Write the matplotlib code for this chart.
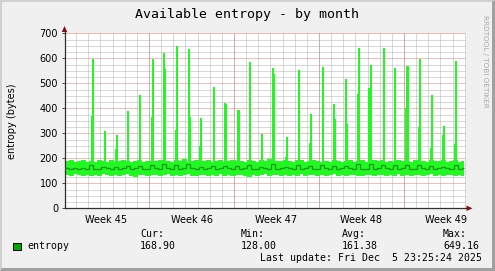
import numpy as np
import matplotlib
matplotlib.use("Agg")
import matplotlib.pyplot as plt
from matplotlib.patches import Polygon, Rectangle

# ---------------- data ----------------
title = "Available entropy - by month"
ylabel = "entropy (bytes)"
week_labels = ["Week 45", "Week 46", "Week 47", "Week 48", "Week 49"]
week_mid = [3.5, 10.5, 17.5, 24.5, 31.5]
week_bounds = [7, 14, 21, 28]

# 8-hour blocks of the min / max / average series (bytes)
lo_blocks = [
    136, 132, 138, 134, 130, 137, 133, 135, 131, 138, 134,
    132, 136, 130, 135, 138, 133, 129, 136, 134, 131, 137,
    135, 130, 134, 138, 132, 136, 131, 135, 139, 133, 130,
    137, 134, 131, 136, 133, 138, 132, 135, 130, 134, 137,
    133, 128, 136, 132, 135, 139, 131, 134, 137, 132, 136,
    130, 135, 133, 138, 131, 136, 134, 130, 137, 133, 135,
    138, 132, 136, 131, 134, 137, 133, 130, 136, 135, 132,
    134, 137, 131, 135, 133, 138, 130, 136, 132, 134, 137,
    131, 135, 138, 133, 136, 130, 134, 137, 132, 135, 133,
]
hi_blocks = [
    186, 190, 184, 188, 192, 185, 189, 183, 191, 187, 185,
    190, 184, 188, 193, 186, 182, 189, 191, 185, 188, 184,
    187, 192, 185, 189, 183, 190, 186, 194, 184, 188, 191,
    185, 189, 192, 184, 187, 190, 183, 188, 193, 186, 189,
    184, 191, 187, 185, 190, 188, 194, 183, 189, 186, 192,
    188, 185, 190, 193, 184, 187, 191, 186, 182, 189, 185,
    191, 186, 183, 189, 192, 185, 188, 190, 184, 187, 193,
    186, 190, 185, 188, 183, 191, 187, 189, 184, 192, 186,
    189, 184, 191, 186, 188, 193, 185, 187, 190, 184, 188,
]
avg_blocks = [
    160, 158, 161, 157, 160, 159, 172, 159, 157, 166, 160,
    158, 165, 157, 160, 168, 159, 161, 170, 158, 157, 174,
    160, 158, 176, 161, 159, 175, 158, 160, 177, 160, 157,
    167, 159, 161, 171, 157, 160, 170, 160, 158, 169, 158,
    161, 175, 159, 157, 164, 161, 159, 176, 158, 160, 165,
    160, 158, 172, 157, 161, 168, 159, 158, 174, 160, 157,
    170, 158, 160, 171, 161, 159, 177, 159, 158, 176, 157,
    160, 174, 160, 159, 172, 158, 161, 175, 159, 157, 174,
    161, 158, 168, 158, 160, 166, 160, 159, 173, 159, 161,
]
# daily spikes of the max series: (day, bytes)
spike_day = [2.24, 2.33, 3.32, 4.22, 4.31, 5.29, 6.28, 7.19, 7.27, 8.18,
             8.26, 9.14, 9.22, 10.24, 10.32, 11.20, 11.28, 12.30, 13.24,
             13.32, 14.22, 14.30, 15.26, 16.25, 17.16, 17.24, 18.23, 18.32,
             19.31, 20.21, 20.30, 21.26, 22.19, 22.25, 23.18, 23.26, 24.16,
             24.22, 25.12, 25.20, 25.29, 26.30, 27.29, 28.20, 28.28, 29.19,
             29.27, 30.18, 30.26, 31.16, 31.25, 32.16, 32.24]
spike_val = [368, 594, 308, 237, 290, 389, 453, 365, 597, 621,
             554, 310, 649.16, 637, 365, 249, 359, 484, 420,
             415, 393, 393, 582, 297, 558, 537, 205, 285,
             551, 260, 377, 565, 415, 355, 517, 337, 455,
             641, 479, 479, 573, 641, 561, 399, 569, 325,
             597, 241, 453, 290, 329, 255, 589]

legend_name = "entropy"
stat_names = ["Cur:", "Min:", "Avg:", "Max:"]
stat_vals = ["168.90", "128.00", "161.38", "649.16"]
last_update = "Last update: Fri Dec  5 23:25:24 2025"
watermark = "RRDTOOL / TOBI OETIKER"

# ---------------- series build ----------------
n_bins = 394
edges = (np.arange(n_bins + 1) + 1) / 12.0
lo = np.repeat(np.array(lo_blocks, float), 4)[:n_bins]
hi = np.repeat(np.array(hi_blocks, float), 4)[:n_bins]
avg = np.repeat(np.array(avg_blocks, float), 4)[:n_bins]
for d, v in zip(spike_day, spike_val):
    k = int(round(d * 12)) - 1
    hi[k] = max(hi[k], v)

# ---------------- figure ----------------
W, H = 495, 271
fig = plt.figure(figsize=(W / 100, H / 100), dpi=100, facecolor="#f0f0f0")


def fx(x):
    return x / W


def fy(y):
    return 1 - y / H


ax = fig.add_axes([fx(65), fy(208.3), (466 - 65) / W, 175 / H])
ax.set_facecolor("white")
ax.set_xlim(0.08, 33.11)
ax.set_ylim(0, 700)

band_col = "#22f822"
line_col = "#149814"
ax.stairs(hi, edges, baseline=lo, fill=True, color=band_col, lw=0,
          antialiased=False, zorder=2)
ax.stairs(avg, edges, baseline=None, color=line_col, lw=0.9, zorder=3)

# grid
ax.set_yticks(np.arange(0, 701, 100))
ax.set_yticks(np.arange(0, 701, 25), minor=True)
ax.set_xticks(week_mid, labels=week_labels)
ax.set_xticks(np.arange(1, 34), minor=True)
ax.set_axisbelow(True)
gray_grid = "#b4b4b4"
red_grid = "#e67c7c"
ax.grid(which="minor", color=gray_grid, linestyle=(0, (1, 1)), lw=0.72)
ax.yaxis.grid(True, which="major", color=red_grid, linestyle=(0, (1, 1)), lw=0.72)
ax.xaxis.grid(False, which="major")
for b in week_bounds:
    ax.axvline(b, color=red_grid, linestyle=(0, (1, 1)), lw=0.72, zorder=0.6)

ax.tick_params(axis="y", which="major", length=2, width=0.7, color="#444444",
               pad=3, labelsize=7, labelcolor="black")
ax.tick_params(axis="y", which="minor", length=0)
ax.tick_params(axis="x", which="both", length=0, pad=5, labelsize=7,
               labelcolor="black")
for s in ["top", "right"]:
    ax.spines[s].set_visible(False)
for s in ["left", "bottom"]:
    ax.spines[s].set_color("#303030")
    ax.spines[s].set_linewidth(0.9)

# axis arrows
arrow_col = "#7f1010"
fig.add_artist(Polygon([(fx(64.5), fy(33.3)), (fx(64.5), fy(29))], closed=False,
                       edgecolor="#303030", lw=0.9, transform=fig.transFigure))
fig.add_artist(Polygon([(fx(64.5), fy(26.0)), (fx(61.8), fy(32.0)), (fx(67.2), fy(32.0))],
                       closed=True, facecolor=arrow_col, edgecolor="none",
                       transform=fig.transFigure))
fig.add_artist(Polygon([(fx(472.5), fy(208.3)), (fx(466.5), fy(205.6)), (fx(466.5), fy(211.0))],
                       closed=True, facecolor=arrow_col, edgecolor="none",
                       transform=fig.transFigure))

# frame border
fig.add_artist(Polygon([(0, 0), (0, 1), (1, 1), (1 - fx(2), 1 - 2 / H), (fx(2), 1 - 2 / H), (fx(2), 2 / H)],
                       closed=True, facecolor="#d0d0d0", edgecolor="none", transform=fig.transFigure))
fig.add_artist(Polygon([(0, 0), (1, 0), (1, 1), (1 - fx(3), 1 - 2 / H), (1 - fx(3), 3 / H), (fx(2), 3 / H)],
                       closed=True, facecolor="#a0a0a0", edgecolor="none", transform=fig.transFigure))

mono = "DejaVu Sans Mono"
fig.text(fx(247), fy(17.7), title, ha="center", va="baseline", family=mono, fontsize=9.5)
fig.text(fx(11.7), fy(120.8), ylabel, ha="center", va="center", rotation=90, fontsize=7)
fig.text(fx(485.5), fy(15), watermark, ha="center", va="top", rotation=270,
         fontsize=5.2, color="#a8a8a8")

# legend
fig.add_artist(Rectangle((fx(13.3), fy(249.7)), 7.4 / W, 7 / H, facecolor="#00a800",
                         edgecolor="black", lw=0.7, transform=fig.transFigure))
fig.text(fx(27), fy(249.3), legend_name, ha="left", va="baseline", family=mono, fontsize=7.15)
col_x = [140, 241, 342, 443]
for cx, nm, val in zip(col_x, stat_names, stat_vals):
    fig.text(fx(cx), fy(237.3), nm, ha="left", va="baseline", family=mono, fontsize=7.15)
    fig.text(fx(cx), fy(249.3), val, ha="left", va="baseline", family=mono, fontsize=7.15)
fig.text(fx(260), fy(260.7), last_update, ha="left", va="baseline", family=mono, fontsize=7.15)

fig.savefig("out.png", dpi=100, facecolor=fig.get_facecolor())
